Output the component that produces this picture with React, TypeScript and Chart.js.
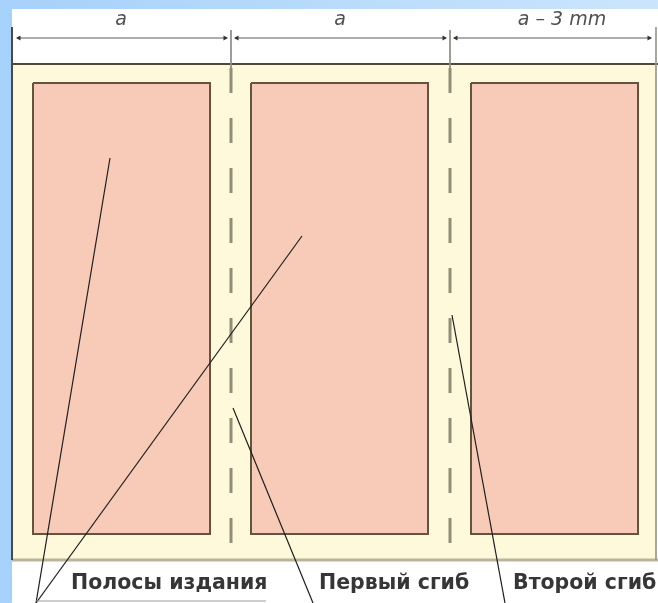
import React, { useEffect, useRef } from "react";
import { Chart, registerables } from "chart.js";

Chart.register(...registerables);

const W = 658;
const H = 603;

// paper (white) area and printed sheet
const paperX = [12, 658];
const paperY = [9, 603];
const sheetX = [12, 656];
const sheetY = [64, 560];
const extensionTopY = 27;

// pages (text strips)
const panelLeft = [33, 251, 471];
const panelRight = [210, 428, 638];
const panelY = [83, 534];

// folds
const foldX = [231, 450];
const foldTickY = [30, 68];
const foldDashY = [68, 543];

// dimension line
const dimY = 38;
const dimFrom = [17, 235, 454];
const dimTo = [227, 446, 651];
const dimLabels = ["a", "a", "a – 3 mm"];
const dimLabelX = [121, 340, 562];
const dimLabelY = 20;

// callouts
const calloutLabels = ["Полосы издания", "Первый сгиб", "Второй сгиб"];
const calloutX = [71, 319, 513];
const calloutY = 584;
const leaderFromX = [110, 302, 233, 452];
const leaderFromY = [158, 236, 408, 315];
const leaderToX = [36, 36, 313, 505];
const leaderToY = [603, 603, 603, 603];
const underlineX = [36, 266];
const underlineY = 601;

const rect = (x0: number, y0: number, x1: number, y1: number) => [
  { x: x0, y: y0 },
  { x: x1, y: y0 },
  { x: x1, y: y1 },
  { x: x0, y: y1 },
  { x: x0, y: y0 },
];
const seg = (x0: number, y0: number, x1: number, y1: number) => [
  { x: x0, y: y0 },
  { x: x1, y: y1 },
];

const bgPlugin = {
  id: "bg",
  beforeDraw(chart: any) {
    const { ctx, width, height } = chart;
    ctx.save();
    const g = ctx.createLinearGradient(0, 0, width, 0);
    g.addColorStop(0, "#a6d1fa");
    g.addColorStop(1, "#cbe5fd");
    ctx.fillStyle = g;
    ctx.fillRect(0, 0, width, height);
    ctx.restore();
  },
};

const textPlugin = {
  id: "texts",
  afterDatasetsDraw(chart: any) {
    const { ctx } = chart;
    const sx = chart.scales.x;
    const sy = chart.scales.y;
    ctx.save();
    ctx.textBaseline = "middle";
    ctx.textAlign = "center";
    ctx.fillStyle = "#505050";
    ctx.font = 'oblique 19px "DejaVu Sans", sans-serif';
    dimLabels.forEach((t, i) => {
      ctx.fillText(t, sx.getPixelForValue(dimLabelX[i]), sy.getPixelForValue(dimLabelY));
    });
    ctx.textAlign = "left";
    ctx.fillStyle = "#363636";
    ctx.font = 'bold 20.5px "DejaVu Sans", sans-serif';
    calloutLabels.forEach((t, i) => {
      ctx.fillText(t, sx.getPixelForValue(calloutX[i]), sy.getPixelForValue(calloutY));
    });
    ctx.restore();
  },
};

export default function App() {
  const ref = useRef<HTMLCanvasElement | null>(null);

  useEffect(() => {
    if (!ref.current) return;
    const layers: any[] = [];
    const line = (data: any[], color: string, width: number, extra: any = {}) => ({
      data,
      showLine: true,
      borderColor: color,
      borderWidth: width,
      pointRadius: 0,
      fill: false,
      tension: 0,
      ...extra,
    });

    // paper
    layers.push(
      line(rect(paperX[0], paperY[0], paperX[1], paperY[1]), "rgba(0,0,0,0)", 0, {
        fill: "shape",
        backgroundColor: "#ffffff",
      })
    );
    // sheet
    layers.push(
      line(rect(sheetX[0], sheetY[0], sheetX[1], sheetY[1]), "rgba(0,0,0,0)", 0, {
        fill: "shape",
        backgroundColor: "#fdf9da",
      })
    );
    layers.push(line(seg(sheetX[0], sheetY[1], paperX[1], sheetY[1]), "#b9b49d", 3));
    layers.push(line(seg(sheetX[0], sheetY[0], paperX[1], sheetY[0]), "#51473a", 2));
    layers.push(line(seg(sheetX[0], extensionTopY, sheetX[0], sheetY[1]), "#51473a", 2));
    layers.push(line(seg(sheetX[1], extensionTopY, sheetX[1], sheetY[1]), "#9b9b93", 1));
    // panels
    panelLeft.forEach((l, i) => {
      layers.push(
        line(rect(l, panelY[0], panelRight[i], panelY[1]), "#64533f", 2, {
          fill: "shape",
          backgroundColor: "#f7cbb7",
        })
      );
    });
    // folds
    foldX.forEach((fx) => {
      layers.push(line(seg(fx, foldTickY[0], fx, foldTickY[1]), "#8f8f88", 1));
      layers.push(
        line(seg(fx, foldDashY[0], fx, foldDashY[1]), "#908e78", 3, { borderDash: [25, 25] })
      );
    });
    // dimension lines with arrowheads
    dimFrom.forEach((f, i) => {
      layers.push(line(seg(f, dimY, dimTo[i], dimY), "#5a5a5a", 1));
      layers.push({
        data: [
          { x: f + 2, y: dimY },
          { x: dimTo[i] - 2, y: dimY },
        ],
        showLine: false,
        pointStyle: "triangle",
        pointRadius: 3,
        rotation: [-90, 90],
        backgroundColor: "#333333",
        borderColor: "#333333",
        borderWidth: 0,
      });
    });
    // leaders
    leaderFromX.forEach((lx, i) => {
      layers.push(line(seg(lx, leaderFromY[i], leaderToX[i], leaderToY[i]), "#1f1f1f", 1.2));
    });
    layers.push(line(seg(underlineX[0], underlineY, underlineX[1], underlineY), "#9a9a9a", 1));

    const datasets = layers.map((d, i) => ({ ...d, order: -i }));

    const chart = new Chart(ref.current, {
      type: "scatter",
      data: { datasets },
      options: {
        animation: false,
        responsive: false,
        devicePixelRatio: 1,
        events: [],
        layout: { padding: 0, autoPadding: false },
        plugins: {
          legend: { display: false },
          tooltip: { enabled: false },
          filler: { propagate: false },
        },
        scales: {
          x: { type: "linear", min: 0, max: W, display: false },
          y: { type: "linear", min: 0, max: H, reverse: true, display: false },
        },
      } as any,
      plugins: [bgPlugin, textPlugin],
    });
    return () => chart.destroy();
  }, []);

  return (
    <div style={{ position: "fixed", left: 0, top: 0, width: W, height: H }}>
      <canvas ref={ref} width={W} height={H} style={{ display: "block", width: W, height: H }} />
    </div>
  );
}
